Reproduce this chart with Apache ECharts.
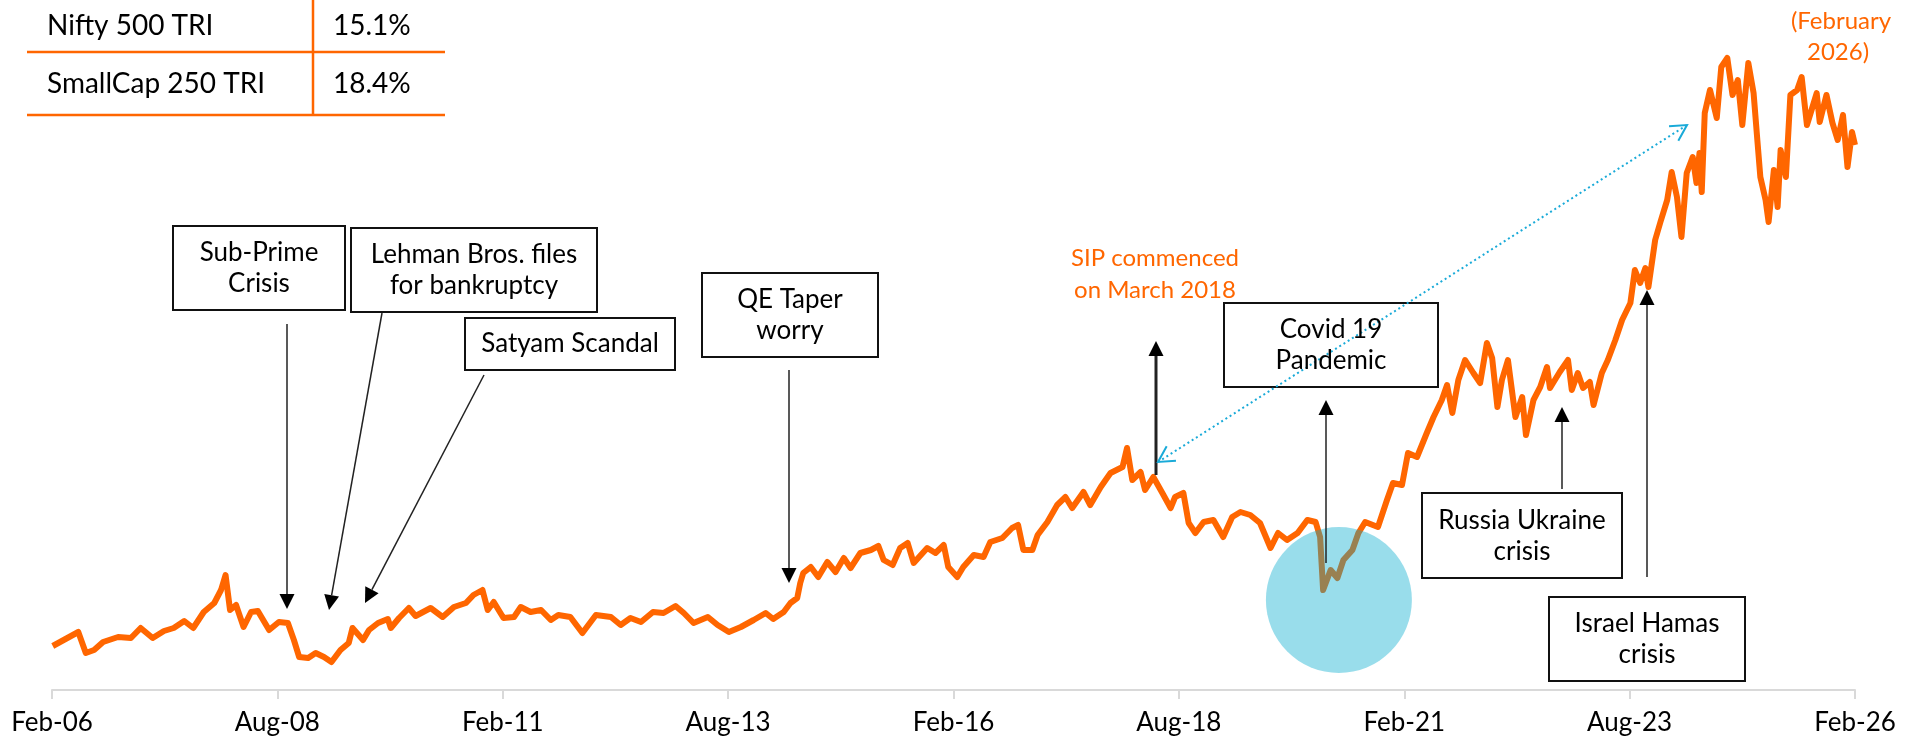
<!DOCTYPE html>
<html>
<head>
<meta charset="utf-8">
<script src="https://cdn.jsdelivr.net/npm/echarts@6/dist/echarts.min.js"></script>
<style>
  html, body { margin: 0; padding: 0; background: #fff; }
  #chart { width: 1916px; height: 743px; }
</style>
</head>
<body>
<div id="chart"></div>
<script>
// SmallCap 250 TRI journey, Feb-06 .. Feb-26 (x = months since Feb 2006)
const ORANGE = '#ff6600';
const FONT = 'Lato, "Open Sans", sans-serif';

const tickLabels = ['Feb-06', 'Aug-08', 'Feb-11', 'Aug-13', 'Feb-16', 'Aug-18', 'Feb-21', 'Aug-23', 'Feb-26'];

const months = [
  0.1, 3.5, 4.5, 5.6, 6.8, 8.8, 10.5, 11.8, 13.4, 14.9, 16.2, 17.6, 18.8, 20.2, 21.6, 22.5, 23.1, 23.7, 24.5, 25.5,
  26.5, 27.4, 28.9, 30.2, 31.4, 32.2, 32.9, 34.1, 35.1, 36.2, 37.2, 38.4, 39.5, 40.0, 41.4, 42.2, 43.4, 44.7, 45.1, 46.2,
  47.5, 48.4, 50.4, 52.0, 53.5, 55.1, 56.1, 57.3, 58.0, 58.8, 60.1, 61.5, 62.4, 63.7, 65.1, 66.4, 67.4, 69.0, 70.6, 72.4,
  74.4, 75.7, 77.0, 78.4, 80.0, 81.4, 83.0, 84.1, 85.4, 87.3, 88.6, 90.1, 91.7, 93.4, 95.0, 96.0, 97.4, 98.3, 99.2, 99.6,
  100.0, 101.0, 102.0, 103.2, 104.3, 105.4, 106.3, 107.6, 109.0, 110.0, 110.7, 111.9, 112.9, 113.9, 114.7, 116.5, 117.6, 118.7, 119.3, 120.5,
  121.3, 122.7, 124.0, 124.9, 126.5, 127.8, 128.6, 129.3, 130.5, 131.2, 132.5, 133.8, 134.9, 135.8, 137.3, 138.2, 139.6, 140.9, 142.5, 143.1,
  143.8, 144.9, 145.5, 146.6, 147.8, 148.9, 149.5, 150.6, 151.3, 152.2, 153.3, 154.6, 155.9, 157.1, 158.2, 159.5, 160.8, 162.2, 163.2, 164.4,
  165.8, 167.1, 168.2, 168.8, 169.2, 170.2, 171.1, 171.9, 173.1, 173.9, 174.8, 176.5, 177.7, 178.5, 179.7, 180.5, 181.7, 183.0, 183.9, 185.0,
  185.7, 186.4, 187.2, 188.1, 189.2, 190.1, 191.0, 191.7, 192.4, 193.0, 193.8, 194.8, 195.7, 196.2, 197.2, 198.1, 199.0, 199.4, 200.7, 201.8,
  202.3, 203.1, 203.8, 204.7, 205.2, 206.3, 207.1, 208.1, 209.0, 210.1, 210.7, 211.4, 212.1, 212.5, 213.4, 214.1, 215.0, 215.6, 216.3, 216.9,
  217.6, 218.4, 218.9, 219.3, 219.6, 220.0, 220.7, 221.6, 222.2, 223.0, 223.7, 224.4, 225.0, 225.8, 226.5, 227.0, 227.4, 228.1, 228.5, 229.2,
  229.7, 230.1, 230.8, 231.4, 232.3, 232.9, 233.6, 234.3, 234.9, 235.3, 236.2, 237.0, 237.7, 238.4, 239.0, 239.6, 240.0
];

const levels = [
  46, 60, 39, 42, 50, 55, 54, 64, 54, 61, 64, 71, 64, 80, 89, 102, 117, 82, 87, 65,
  80, 81, 62, 70, 69, 52, 35, 34, 39, 35, 30, 42, 49, 64, 52, 62, 69, 73, 64, 74,
  84, 76, 84, 75, 85, 89, 97, 102, 82, 90, 74, 75, 85, 80, 82, 72, 77, 75, 59, 77,
  75, 67, 74, 70, 80, 79, 86, 79, 69, 75, 67, 60, 65, 72, 79, 73, 80, 89, 94, 109,
  119, 125, 115, 130, 120, 134, 124, 139, 142, 146, 132, 127, 144, 149, 129, 144, 139, 147, 125, 115,
  125, 137, 135, 150, 154, 164, 167, 142, 142, 157, 170, 187, 195, 184, 200, 187, 205, 219, 225, 244,
  212, 220, 202, 215, 199, 184, 195, 199, 169, 159, 170, 172, 155, 175, 180, 177, 169, 144, 159, 152,
  159, 172, 170, 155, 102, 122, 114, 132, 142, 159, 170, 165, 192, 209, 207, 239, 235, 259, 275, 292,
  307, 279, 312, 332, 319, 309, 349, 334, 285, 312, 332, 275, 295, 257, 292, 305, 325, 304, 320, 332,
  302, 319, 304, 310, 287, 319, 332, 352, 372, 389, 422, 409, 424, 405, 452, 470, 492, 520, 495, 455,
  519, 535, 509, 539, 500, 579, 602, 574, 625, 634, 597, 612, 567, 629, 599, 552, 515, 492, 470, 522,
  485, 542, 515, 597, 602, 615, 567, 584, 599, 570, 597, 569, 552, 577, 525, 560, 547
];

// Covid crash highlight (month, level)
const covidBubble = [171.3, 92];

const tableNames = ['Nifty 500 TRI', 'SmallCap 250 TRI'];
const tableReturns = ['15.1%', '18.4%'];

// annotation boxes: [left, top, width, height] and text lines
const boxes = [
  { rect: [173, 226, 172, 84], lines: ['Sub-Prime', 'Crisis'] },
  { rect: [351, 228, 246, 84], lines: ['Lehman Bros. files', 'for bankruptcy'] },
  { rect: [465, 318, 210, 52], lines: ['Satyam Scandal'] },
  { rect: [702, 273, 176, 84], lines: ['QE Taper', 'worry'] },
  { rect: [1224, 303, 214, 84], lines: ['Covid 19', 'Pandemic'] },
  { rect: [1422, 493, 200, 85], lines: ['Russia Ukraine', 'crisis'] },
  { rect: [1549, 597, 196, 84], lines: ['Israel Hamas', 'crisis'] },
];

// arrows: from -> to (tip), line width
const arrows = [
  [287, 324, 287, 609, 1.5],
  [382, 313, 329, 610, 1.5],
  [484, 375, 365, 603, 1.5],
  [789, 370, 789, 583, 1.5],
  [1156, 475, 1156, 341, 3],
  [1326, 563, 1326, 400, 1.5],
  [1562, 489, 1562, 407, 1.5],
  [1647, 577, 1647, 290, 1.5],
];

function arrow(x1, y1, x2, y2, w) {
  const head = 15, hw = 7.5;
  const dx = x2 - x1, dy = y2 - y1, L = Math.hypot(dx, dy);
  const ux = dx / L, uy = dy / L;
  const bx = x2 - ux * head, by = y2 - uy * head;
  return [
    { type: 'line', z: 20, shape: { x1, y1, x2: bx, y2: by }, style: { stroke: '#222', lineWidth: w } },
    { type: 'polygon', z: 20, shape: { points: [[x2, y2], [bx - uy * hw, by + ux * hw], [bx + uy * hw, by - ux * hw]] }, style: { fill: '#000' } },
  ];
}

function chevron(tx, ty, fx, fy) {
  const len = 18, a = 0.5;
  const dx = fx - tx, dy = fy - ty, L = Math.hypot(dx, dy);
  const ux = dx / L, uy = dy / L;
  const p1 = [tx + len * (ux * Math.cos(a) - uy * Math.sin(a)), ty + len * (ux * Math.sin(a) + uy * Math.cos(a))];
  const p2 = [tx + len * (ux * Math.cos(-a) - uy * Math.sin(-a)), ty + len * (ux * Math.sin(-a) + uy * Math.cos(-a))];
  return { type: 'polyline', z: 20, shape: { points: [p1, [tx, ty], p2] }, style: { stroke: '#19aad8', lineWidth: 2, fill: null } };
}

function text(str, x, y, size, color, align) {
  return {
    type: 'text', z: 21,
    style: { text: str, x, y, font: size + 'px ' + FONT, fill: color, textAlign: align || 'center', textVerticalAlign: 'middle', verticalAlign: 'middle' },
  };
}

const graphics = [];

// returns table
graphics.push({ type: 'line', z: 20, shape: { x1: 27, y1: 52, x2: 445, y2: 52 }, style: { stroke: ORANGE, lineWidth: 2.5 } });
graphics.push({ type: 'line', z: 20, shape: { x1: 27, y1: 115, x2: 445, y2: 115 }, style: { stroke: ORANGE, lineWidth: 2.5 } });
graphics.push({ type: 'line', z: 20, shape: { x1: 313, y1: 0, x2: 313, y2: 115 }, style: { stroke: ORANGE, lineWidth: 2.5 } });
tableNames.forEach((n, i) => {
  graphics.push(text(n, 47, 26 + i * 58, 28, '#000', 'left'));
  graphics.push(text(tableReturns[i], 333, 26 + i * 58, 28, '#000', 'left'));
});

boxes.forEach(b => {
  const [x, y, w, h] = b.rect;
  graphics.push({ type: 'rect', z: 20, shape: { x, y, width: w, height: h }, style: { fill: '#fff', stroke: '#111', lineWidth: 2 } });
  const cy = y + h / 2;
  if (b.lines.length === 1) {
    graphics.push(text(b.lines[0], x + w / 2, cy, 26, '#000'));
  } else {
    graphics.push(text(b.lines[0], x + w / 2, cy - 15, 26, '#000'));
    graphics.push(text(b.lines[1], x + w / 2, cy + 16, 26, '#000'));
  }
});

arrows.forEach(a => graphics.push(...arrow(a[0], a[1], a[2], a[3], a[4])));

// SIP start -> today, dotted double arrow
graphics.push({ type: 'line', z: 20, shape: { x1: 1158, y1: 462, x2: 1687, y2: 125 }, style: { stroke: '#19aad8', lineWidth: 2, lineDash: [2, 3] } });
graphics.push(chevron(1158, 462, 1687, 125));
graphics.push(chevron(1687, 125, 1158, 462));

graphics.push(text('SIP commenced', 1155, 258, 24, ORANGE));
graphics.push(text('on March 2018', 1155, 290, 24, ORANGE));
graphics.push(text('(February', 1841, 21, 24, ORANGE));
graphics.push(text('2026)', 1838, 52, 24, ORANGE));

const chart = echarts.init(document.getElementById('chart'), null, { renderer: 'canvas' });
chart.setOption({
  backgroundColor: '#fff',
  animation: false,
  grid: { left: 52, right: 61, top: 40, bottom: 53 },
  xAxis: {
    type: 'value', min: 0, max: 240, interval: 30,
    axisLine: { lineStyle: { color: '#d9d9d9', width: 2 } },
    axisTick: { show: true, length: 9, lineStyle: { color: '#d9d9d9', width: 2 } },
    axisLabel: {
      color: '#000', fontSize: 26, fontFamily: FONT, margin: 20,
      formatter: v => tickLabels[Math.round(v / 30)] || '',
    },
    splitLine: { show: false },
  },
  yAxis: {
    type: 'value', min: 2, max: 652, show: false,
    splitLine: { show: false },
  },
  series: [
    {
      name: 'SmallCap 250 TRI', type: 'line', showSymbol: false,
      lineStyle: { color: ORANGE, width: 6, join: 'round' },
      data: months.map((m, i) => [m, levels[i]]),
      z: 2,
    },
    {
      name: 'Covid', type: 'scatter', symbol: 'circle', symbolSize: 146,
      itemStyle: { color: 'rgba(0,169,205,0.5)' },
      data: [covidBubble],
      z: 3,
    },
  ],
  graphic: graphics,
});
</script>
</body>
</html>
